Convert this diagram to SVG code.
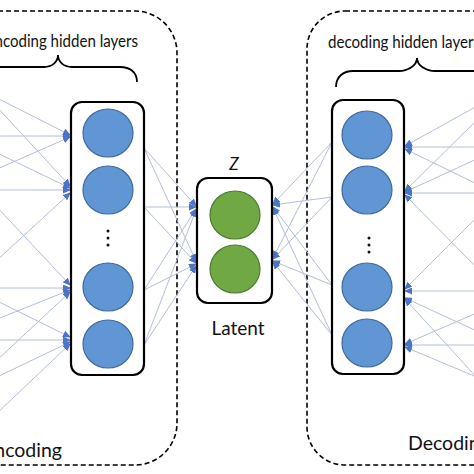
<svg xmlns="http://www.w3.org/2000/svg" width="474" height="474" viewBox="0 0 474 474">
<style>
.dash{fill:none;stroke:#000;stroke-width:1.6;stroke-dasharray:5,3}
.layer{fill:#fff;stroke:#000;stroke-width:2.2}
.blue{fill:#6096d4;stroke:#41699c;stroke-width:1.2}
.green{fill:#70a844;stroke:#4f7a30;stroke-width:1.2}
.c{stroke:#b3bedb;stroke-width:1;fill:none;marker-end:url(#ah)}
.brace{fill:none;stroke:#000;stroke-width:1.8}
.t{font-family:Lato,"Open Sans",sans-serif;fill:#111}
.dot{fill:#111}
</style>
<defs>
<marker id="ah" markerUnits="userSpaceOnUse" markerWidth="8" markerHeight="7" refX="7" refY="3.5" orient="auto">
<path d="M0,0 L8,3.5 L0,7 z" fill="#4a74c6"/>
</marker>
</defs>
<rect width="474" height="474" fill="#fff"/>
<g id="encoding-region">
<rect class="dash" x="-60" y="11" width="237" height="454" rx="42"/>
<text class="t" x="62" y="457" font-size="19.5" text-anchor="end">Encoding</text>
</g>
<g id="decoding-region">
<rect class="dash" x="307" y="11" width="240" height="454" rx="38"/>
<text class="t" x="408" y="450" font-size="19.5">Decoding</text>
</g>
<g id="connectors">
<line class="c" x1="-5" y1="97" x2="70" y2="135"/>
<line class="c" x1="-5" y1="136" x2="70" y2="136"/>
<line class="c" x1="-5" y1="170" x2="70" y2="137"/>
<line class="c" x1="-5" y1="105" x2="70" y2="186"/>
<line class="c" x1="-5" y1="152" x2="70" y2="188"/>
<line class="c" x1="-5" y1="190" x2="70" y2="190"/>
<line class="c" x1="-5" y1="262" x2="70" y2="193"/>
<line class="c" x1="-5" y1="205" x2="70" y2="285"/>
<line class="c" x1="-5" y1="288" x2="70" y2="288"/>
<line class="c" x1="-5" y1="320" x2="70" y2="290"/>
<line class="c" x1="-5" y1="362" x2="70" y2="292"/>
<line class="c" x1="-5" y1="300" x2="70" y2="337"/>
<line class="c" x1="-5" y1="340" x2="70" y2="340"/>
<line class="c" x1="-5" y1="378" x2="70" y2="342"/>
<line class="c" x1="-5" y1="415" x2="70" y2="344"/>
<line class="c" x1="144" y1="148" x2="196" y2="206"/>
<line class="c" x1="144" y1="148" x2="196" y2="261"/>
<line class="c" x1="144" y1="207" x2="196" y2="207"/>
<line class="c" x1="144" y1="207" x2="196" y2="263"/>
<line class="c" x1="144" y1="290" x2="196" y2="209"/>
<line class="c" x1="144" y1="290" x2="196" y2="264"/>
<line class="c" x1="144" y1="345" x2="196" y2="210"/>
<line class="c" x1="144" y1="345" x2="196" y2="266"/>
<line class="c" x1="332" y1="142" x2="273" y2="204"/>
<line class="c" x1="332" y1="142" x2="273" y2="258"/>
<line class="c" x1="332" y1="197" x2="273" y2="205"/>
<line class="c" x1="332" y1="197" x2="273" y2="259"/>
<line class="c" x1="332" y1="285" x2="273" y2="207"/>
<line class="c" x1="332" y1="285" x2="273" y2="261"/>
<line class="c" x1="332" y1="335" x2="273" y2="208"/>
<line class="c" x1="332" y1="335" x2="273" y2="262"/>
<line class="c" x1="479" y1="105" x2="405" y2="146"/>
<line class="c" x1="479" y1="147" x2="405" y2="147"/>
<line class="c" x1="479" y1="185" x2="405" y2="149"/>
<line class="c" x1="479" y1="118" x2="405" y2="191"/>
<line class="c" x1="479" y1="158" x2="405" y2="192"/>
<line class="c" x1="479" y1="193" x2="405" y2="193"/>
<line class="c" x1="479" y1="270" x2="405" y2="195"/>
<line class="c" x1="479" y1="215" x2="405" y2="289"/>
<line class="c" x1="479" y1="291" x2="405" y2="291"/>
<line class="c" x1="479" y1="332" x2="405" y2="298"/>
<line class="c" x1="479" y1="380" x2="405" y2="299"/>
<line class="c" x1="479" y1="312" x2="405" y2="344"/>
<line class="c" x1="479" y1="345" x2="405" y2="345"/>
<line class="c" x1="479" y1="378" x2="405" y2="347"/>
</g>
<g id="encoding-hidden-layers">
<text class="t" x="-14" y="47" font-size="17" textLength="152" lengthAdjust="spacingAndGlyphs">Encoding hidden layers</text>
<path class="brace" d="M-21,82 C-21,72 -14,67 -4,67 L44,67 C52,67 58,62 58,55 C58,62 64,67 72,67 L120,67 C130,67 137,72 137,82"/>
<rect class="layer" x="71" y="102" width="73" height="273" rx="11"/>
<ellipse class="blue" cx="108" cy="133" rx="25" ry="24"/>
<ellipse class="blue" cx="108" cy="190" rx="25" ry="24"/>
<circle class="dot" cx="108" cy="231" r="1.5"/>
<circle class="dot" cx="108" cy="238" r="1.5"/>
<circle class="dot" cx="108" cy="245" r="1.5"/>
<ellipse class="blue" cx="108" cy="287" rx="25" ry="24"/>
<ellipse class="blue" cx="108" cy="344" rx="25" ry="24"/>
</g>
<g id="latent">
<text class="t" x="234" y="170" font-size="17" font-style="italic" text-anchor="middle">Z</text>
<rect class="layer" x="197" y="178" width="75" height="125" rx="11"/>
<ellipse class="green" cx="235" cy="215" rx="25" ry="24"/>
<ellipse class="green" cx="235" cy="269" rx="25" ry="24"/>
<text class="t" x="238" y="335" font-size="19" text-anchor="middle">Latent</text>
</g>
<g id="decoding-hidden-layers">
<text class="t" x="328" y="48" font-size="17" textLength="152" lengthAdjust="spacingAndGlyphs">decoding hidden layers</text>
<path class="brace" d="M336,87 C336,77 343,71 353,71 L399,71 C407,71 417,66 417,58 C417,66 427,71 435,71 L481,71 C491,71 498,77 498,87"/>
<rect class="layer" x="332" y="100" width="72" height="274" rx="11"/>
<ellipse class="blue" cx="367" cy="135" rx="25" ry="24"/>
<ellipse class="blue" cx="367" cy="190" rx="25" ry="24"/>
<circle class="dot" cx="369" cy="238" r="1.5"/>
<circle class="dot" cx="369" cy="245" r="1.5"/>
<circle class="dot" cx="369" cy="252" r="1.5"/>
<ellipse class="blue" cx="367" cy="287" rx="25" ry="24"/>
<ellipse class="blue" cx="367" cy="343" rx="25" ry="24"/>
</g>
</svg>
